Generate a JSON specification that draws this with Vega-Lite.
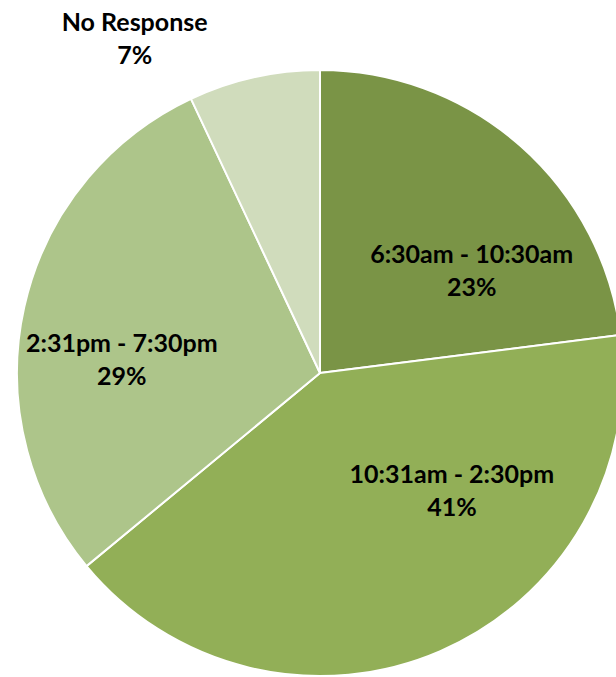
{
  "$schema": "https://vega.github.io/schema/vega-lite/v6.json",
  "width": 606,
  "height": 606,
  "autosize": {"type": "none"},
  "padding": {"left": 17, "top": 70, "right": 0, "bottom": 1},
  "background": "white",
  "view": {"stroke": null},
  "data": {
    "values": [
      {"slot": "6:30am - 10:30am", "pct": 23, "order": 1, "label": "6:30am - 10:30am\n23%"},
      {"slot": "10:31am - 2:30pm", "pct": 41, "order": 2, "label": "10:31am - 2:30pm\n41%"},
      {"slot": "2:31pm - 7:30pm", "pct": 29, "order": 3, "label": "2:31pm - 7:30pm\n29%"},
      {"slot": "No Response", "pct": 7, "order": 4, "label": "No Response\n7%"}
    ]
  },
  "encoding": {
    "theta": {"field": "pct", "type": "quantitative", "stack": true},
    "order": {"field": "order", "type": "quantitative"}
  },
  "layer": [
    {
      "mark": {"type": "arc", "stroke": "white", "strokeWidth": 2},
      "encoding": {
        "color": {
          "field": "slot",
          "type": "nominal",
          "scale": {
            "domain": ["6:30am - 10:30am", "10:31am - 2:30pm", "2:31pm - 7:30pm", "No Response"],
            "range": ["#7A9446", "#92AF57", "#ADC58A", "#D0DCBC"]
          },
          "legend": null
        }
      }
    },
    {
      "mark": {"type": "text", "radius": 184, "dx": 30, "dy": 20, "font": "Lato", "fontWeight": "bold", "fontSize": 25, "lineHeight": 33, "lineBreak": "\n", "color": "black", "align": "center", "baseline": "middle"},
      "encoding": {
        "text": {"condition": {"test": "datum.order === 1", "field": "label"}, "value": ""}
      }
    },
    {
      "mark": {"type": "text", "radius": 176, "dx": 62, "dy": -60, "font": "Lato", "fontWeight": "bold", "fontSize": 25, "lineHeight": 33, "lineBreak": "\n", "color": "black", "align": "center", "baseline": "middle"},
      "encoding": {
        "text": {"condition": {"test": "datum.order === 2", "field": "label"}, "value": ""}
      }
    },
    {
      "mark": {"type": "text", "radius": 198, "dx": -5, "dy": 14, "font": "Lato", "fontWeight": "bold", "fontSize": 25, "lineHeight": 33, "lineBreak": "\n", "color": "black", "align": "center", "baseline": "middle"},
      "encoding": {
        "text": {"condition": {"test": "datum.order === 3", "field": "label"}, "value": ""}
      }
    },
    {
      "mark": {"type": "text", "radius": 382, "dx": -102, "dy": 23, "font": "Lato", "fontWeight": "bold", "fontSize": 25, "lineHeight": 33, "lineBreak": "\n", "color": "black", "align": "center", "baseline": "middle"},
      "encoding": {
        "text": {"condition": {"test": "datum.order === 4", "field": "label"}, "value": ""}
      }
    }
  ]
}
